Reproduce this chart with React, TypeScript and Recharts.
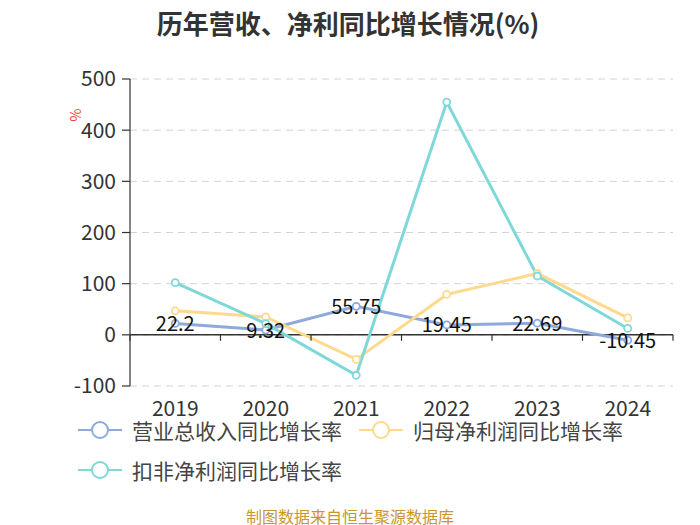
import React from 'react';
import { LineChart, Line, XAxis, YAxis, CartesianGrid, ReferenceLine, LabelList } from 'recharts';

const years = ['2019', '2020', '2021', '2022', '2023', '2024'];
const revenueGrowth = [22.2, 9.32, 55.75, 19.45, 22.69, -10.45];
const netProfitGrowth = [47, 35, -48, 79, 120, 33];
const deductedProfitGrowth = [102, 22, -79, 455, 115, 12.5];
const yTicks = [-100, 0, 100, 200, 300, 400, 500];

const seriesNames = ['营业总收入同比增长率', '归母净利润同比增长率', '扣非净利润同比增长率'];
const colors = ['#8eaadb', '#ffd98c', '#7fd8d8'];

const data = years.map((y, i) => ({
  year: y,
  revenue: revenueGrowth[i],
  net: netProfitGrowth[i],
  deducted: deductedProfitGrowth[i],
}));

const W = 700;
const H = 525;
const LEFT = 130;
const RIGHT = 673;
const TOP = 79;
const BOTTOM = 386;
const BAND = (RIGHT - LEFT) / years.length;
const ZERO_Y = TOP + (500 / 600) * (BOTTOM - TOP);
const LABEL_Y = 407;
const FONT = '"Noto Sans CJK SC", "Noto Sans", sans-serif';

const XTick = (props: any) => {
  const { x, payload, index } = props;
  const half = BAND / 2;
  return (
    <g>
      <line x1={x - half} x2={x - half} y1={ZERO_Y} y2={ZERO_Y + 6} stroke="#333" strokeWidth={1.2} />
      {index === years.length - 1 && (
        <line x1={x + half} x2={x + half} y1={ZERO_Y} y2={ZERO_Y + 6} stroke="#333" strokeWidth={1.2} />
      )}
      <text x={x} y={LABEL_Y} textAnchor="middle" dominantBaseline="central" fontSize={21} fill="#333" fontFamily={FONT}>
        {payload.value}
      </text>
    </g>
  );
};

const PointLabel = (props: any) => {
  const { x, y, value } = props;
  return (
    <text x={x} y={y - 1} textAnchor="middle" dominantBaseline="central" fontSize={20} fill="#111" fontFamily={FONT}>
      {value}
    </text>
  );
};

const LegendItem = ({ x, y, color, label }: { x: number; y: number; color: string; label: string }) => (
  <g>
    <line x1={x} x2={x + 44} y1={y} y2={y} stroke={color} strokeWidth={2} />
    <circle cx={x + 22} cy={y} r={8} fill="#fff" stroke={color} strokeWidth={2} />
    <text x={x + 54} y={y} dominantBaseline="central" fontSize={21} fill="#444" fontFamily={FONT}>
      {label}
    </text>
  </g>
);

export default function App() {
  const dot = (c: string) => ({ r: 3.5, fill: '#fff', stroke: c, strokeWidth: 1.8 });
  return (
    <div style={{ position: 'absolute', left: 0, top: 0, width: W, height: H, background: '#fff' }}>
      <LineChart width={W} height={H} data={data} margin={{ top: TOP, right: W - RIGHT, bottom: H - BOTTOM - 30, left: 0 }}>
        <CartesianGrid vertical={false} stroke="#d4d4d4" strokeDasharray="7 5" />
        <XAxis
          dataKey="year"
          height={30}
          axisLine={false}
          tickLine={false}
          interval={0}
          padding={{ left: BAND / 2, right: BAND / 2 }}
          tick={<XTick />}
        />
        <YAxis
          width={LEFT}
          domain={[-100, 500]}
          ticks={yTicks}
          interval={0}
          axisLine={{ stroke: '#333', strokeWidth: 1.2 }}
          tickLine={{ stroke: '#333', strokeWidth: 1.2 }}
          tickSize={8}
          tickMargin={6}
          tick={{ fontSize: 21, fill: '#333', fontFamily: FONT }}
        />
        <ReferenceLine y={0} stroke="#333" strokeWidth={1.5} />
        <Line type="linear" dataKey="revenue" stroke={colors[0]} strokeWidth={3} dot={dot(colors[0])} activeDot={false} isAnimationActive={false} />
        <Line type="linear" dataKey="net" stroke={colors[1]} strokeWidth={3} dot={dot(colors[1])} activeDot={false} isAnimationActive={false} />
        <Line type="linear" dataKey="deducted" stroke={colors[2]} strokeWidth={3} dot={dot(colors[2])} activeDot={false} isAnimationActive={false} />
        <Line type="linear" dataKey="revenue" stroke="none" dot={false} activeDot={false} isAnimationActive={false} legendType="none">
          <LabelList dataKey="revenue" content={<PointLabel />} />
        </Line>
      </LineChart>
      <svg width={W} height={H} style={{ position: 'absolute', left: 0, top: 0, pointerEvents: 'none' }}>
        <text x={348} y={22} textAnchor="middle" dominantBaseline="central" fontSize={26} fontWeight="bold" fill="#333" fontFamily={FONT}>
          历年营收、净利同比增长情况(%)
        </text>
        <text x={75} y={115} textAnchor="middle" dominantBaseline="central" fontSize={14} fill="#f03c3c" fontFamily={FONT} transform="rotate(-90 75 115)">
          %
        </text>
        <LegendItem x={78} y={430} color={colors[0]} label={seriesNames[0]} />
        <LegendItem x={359} y={430} color={colors[1]} label={seriesNames[1]} />
        <LegendItem x={78} y={470} color={colors[2]} label={seriesNames[2]} />
        <text x={350} y={516} textAnchor="middle" dominantBaseline="central" fontSize={16} fill="#c8952f" fontFamily={FONT}>
          制图数据来自恒生聚源数据库
        </text>
      </svg>
    </div>
  );
}
